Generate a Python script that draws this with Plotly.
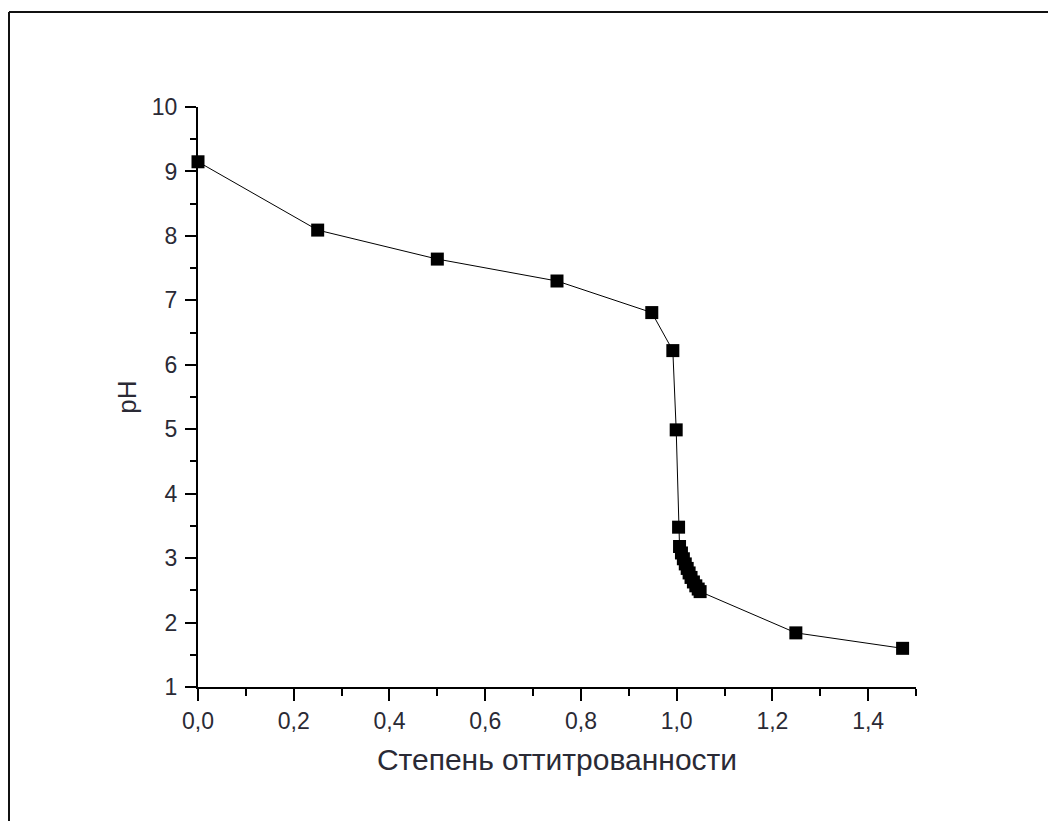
import plotly.graph_objects as go

# Data
titration_degree = [0.0, 0.25, 0.50, 0.75, 0.948, 0.992, 0.999, 1.004,
                    1.006, 1.010, 1.014, 1.018, 1.022, 1.026, 1.030, 1.035,
                    1.040, 1.045, 1.049, 1.249, 1.472]
ph_values = [9.15, 8.09, 7.64, 7.30, 6.81, 6.22, 4.99, 3.48,
             3.18, 3.08, 2.99, 2.91, 2.84, 2.77, 2.70, 2.63,
             2.57, 2.52, 2.48, 1.84, 1.60]

x_tickvals = [0.0, 0.2, 0.4, 0.6, 0.8, 1.0, 1.2, 1.4]
x_ticktext = ["0,0", "0,2", "0,4", "0,6", "0,8", "1,0", "1,2", "1,4"]
y_tickvals = [1, 2, 3, 4, 5, 6, 7, 8, 9, 10]
y_ticktext = [str(v) for v in y_tickvals]

FONT = "Liberation Sans, Arial, sans-serif"
LABEL_COLOR = "#2a2a35"

fig = go.Figure()
fig.add_trace(go.Scatter(
    x=titration_degree, y=ph_values, mode="lines+markers",
    line=dict(color="black", width=1),
    marker=dict(symbol="square", size=13, color="black", line=dict(width=0)),
    showlegend=False, cliponaxis=False,
))

# the page has an 8px body margin, so the figure starts at (8, 8)
OFF = 8
W, H = 1056 - OFF, 821 - OFF
ml, mt = 198 - OFF, 107 - OFF
pw, ph = 718, 580
mr, mb = W - ml - pw, H - mt - ph

fig.update_layout(
    width=W, height=H,
    margin=dict(l=ml, r=mr, t=mt, b=mb),
    paper_bgcolor="white", plot_bgcolor="white",
    font=dict(family=FONT, size=22, color=LABEL_COLOR),
    xaxis=dict(
        range=[0, 1.5], tickvals=x_tickvals, ticktext=x_ticktext,
        showgrid=False, zeroline=False, showline=True, linecolor="black", linewidth=2,
        ticks="outside", ticklen=12, tickwidth=2, tickcolor="black",
        minor=dict(dtick=0.1, tick0=0, ticks="outside", ticklen=7, tickwidth=2, tickcolor="black"),
        tickfont=dict(size=23, family=FONT, color=LABEL_COLOR),
        ticklabelstandoff=0,
        title=dict(text="Степень оттитрованности", font=dict(size=30, family=FONT, color=LABEL_COLOR), standoff=16),
    ),
    yaxis=dict(
        range=[1, 10], tickvals=y_tickvals, ticktext=y_ticktext,
        showgrid=False, zeroline=False, showline=True, linecolor="black", linewidth=2,
        ticks="outside", ticklen=11, tickwidth=2, tickcolor="black",
        minor=dict(dtick=0.5, tick0=1, ticks="outside", ticklen=6, tickwidth=2, tickcolor="black"),
        tickfont=dict(size=23, family=FONT, color=LABEL_COLOR),
        ticklabelstandoff=3,
        title=dict(text="pH", font=dict(size=26, family=FONT, color=LABEL_COLOR), standoff=8),
    ),
)

# outer frame: only its top and left edges are visible in the reference;
# keep it inside the figure box so nothing overflows the page
fx0 = (1 - ml) / pw
fx1 = (W - ml) / pw
fy0 = -mb / ph
fy1 = (H - mb - 4) / ph
fig.add_shape(type="line", xref="paper", yref="paper", x0=fx0, x1=fx1, y0=fy1, y1=fy1,
              line=dict(color="#111111", width=2), layer="below")
fig.add_shape(type="line", xref="paper", yref="paper", x0=fx0, x1=fx0, y0=fy0, y1=fy1,
              line=dict(color="#111111", width=2), layer="below")

fig.write_html("out.html")
